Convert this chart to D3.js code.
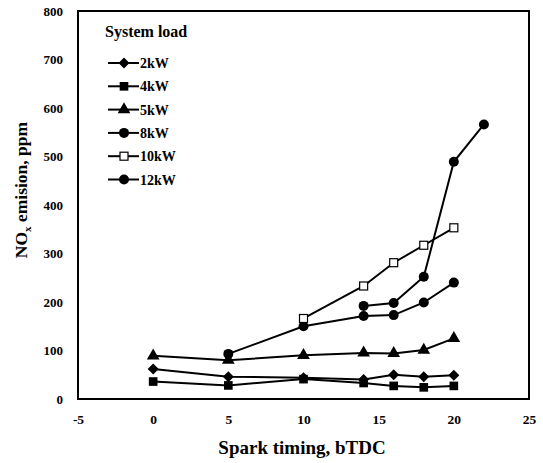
<!DOCTYPE html>
<html>
<head>
<meta charset="utf-8">
<script src="https://cdn.jsdelivr.net/npm/d3@7"></script>
<style>
body { margin: 0; background: #fff; }
text { font-family: "Liberation Serif", "Times New Roman", serif; font-weight: bold; fill: #000; }
</style>
</head>
<body>
<script>
// Data
const xTicks = [-5, 0, 5, 10, 15, 20, 25];
const yTicks = [0, 100, 200, 300, 400, 500, 600, 700, 800];

const x2kW = [0, 5, 10, 14, 16, 18, 20];
const y2kW = [62, 46, 44, 40, 50, 46, 49];
const x4kW = [0, 5, 10, 14, 16, 18, 20];
const y4kW = [36, 28, 41, 33, 27, 24, 27];
const x5kW = [0, 5, 10, 14, 16, 18, 20];
const y5kW = [89, 80, 90, 95, 94, 101, 125];
const x8kW = [5, 10, 14, 16, 18, 20];
const y8kW = [93, 150, 171, 173, 199, 240];
const x10kW = [10, 14, 16, 18, 20];
const y10kW = [166, 233, 281, 317, 353];
const x12kW = [14, 16, 18, 20, 22];
const y12kW = [192, 198, 252, 489, 566];

const seriesNames = ["2kW", "4kW", "5kW", "8kW", "10kW", "12kW"];
const seriesX = [x2kW, x4kW, x5kW, x8kW, x10kW, x12kW];
const seriesY = [y2kW, y4kW, y5kW, y8kW, y10kW, y12kW];
const symbols = ["diamond", "square", "triangle", "circle", "open", "circle"];

const width = 543, height = 463;
const margin = {left: 78, right: 14, top: 11, bottom: 64};

let svg = d3.select("body").append("svg")
	.attr("width", width)
	.attr("height", height);

let x = d3.scaleLinear().domain([-5, 25]).range([margin.left, width - margin.right]);
let y = d3.scaleLinear().domain([0, 800]).range([height - margin.bottom, margin.top]);

// Frame
svg.append("rect")
	.attr("x", x(-5)).attr("y", y(800))
	.attr("width", x(25) - x(-5)).attr("height", y(0) - y(800))
	.attr("fill", "none").attr("stroke", "#000").attr("stroke-width", 2);

// Axes (labels only)
svg.append("g")
	.attr("transform", `translate(0,${y(0)})`)
	.call(d3.axisBottom(x).tickValues(xTicks).tickSize(0).tickPadding(15).tickFormat(d => String(d)))
	.call(g => g.select(".domain").remove())
	.selectAll("text").attr("font-size", 13.5).attr("font-family", null);

svg.append("g")
	.attr("transform", `translate(${x(-5)},0)`)
	.call(d3.axisLeft(y).tickValues(yTicks).tickSize(0).tickPadding(15))
	.call(g => g.select(".domain").remove())
	.selectAll("text").attr("font-size", 13).attr("font-family", null);

// Axis titles
svg.append("text")
	.attr("x", 302).attr("y", 454)
	.attr("text-anchor", "middle")
	.attr("font-size", 19)
	.text("Spark timing, bTDC");

let yt = svg.append("text")
	.attr("transform", "translate(27,190) rotate(-90)")
	.attr("text-anchor", "middle")
	.attr("font-size", 17.5);
yt.append("tspan").text("NO");
yt.append("tspan").attr("font-size", 11).attr("dy", 4).text("x");
yt.append("tspan").attr("dy", -4).text(" emision, ppm");

// Marker drawing
function marker(g, type, cx, cy) {
	if (type === "circle") {
		g.append("circle").attr("cx", cx).attr("cy", cy).attr("r", 5).attr("fill", "#000");
	} else if (type === "open") {
		g.append("rect").attr("x", cx - 4).attr("y", cy - 4).attr("width", 8).attr("height", 8)
			.attr("fill", "#fff").attr("stroke", "#000").attr("stroke-width", 1.2);
	} else if (type === "diamond") {
		g.append("path")
			.attr("d", `M${cx},${cy - 5.5}L${cx + 5.5},${cy}L${cx},${cy + 5.5}L${cx - 5.5},${cy}Z`)
			.attr("fill", "#000");
	} else {
		let sym = {square: d3.symbolSquare, triangle: d3.symbolTriangle}[type];
		let size = {square: 75, triangle: 70}[type];
		g.append("path")
			.attr("d", d3.symbol(sym, size)())
			.attr("transform", `translate(${cx},${cy})`)
			.attr("fill", "#000");
	}
}

let line = d3.line().x(d => x(d[0])).y(d => y(d[1]));

for (let i = 0; i < seriesNames.length; ++i) {
	let pts = seriesX[i].map((v, j) => [v, seriesY[i][j]]);
	let g = svg.append("g");
	g.append("path")
		.attr("d", line(pts))
		.attr("fill", "none")
		.attr("stroke", "#000")
		.attr("stroke-width", 2);
	for (let j = 0; j < pts.length; ++j)
		marker(g, symbols[i], x(pts[j][0]), y(pts[j][1]));
}

// Legend
svg.append("text")
	.attr("x", 105).attr("y", 37)
	.attr("font-size", 16)
	.text("System load");

for (let i = 0; i < seriesNames.length; ++i) {
	let ly = 63 + i * 23.3;
	let g = svg.append("g");
	g.append("line")
		.attr("x1", 108).attr("x2", 139)
		.attr("y1", ly).attr("y2", ly)
		.attr("stroke", "#000").attr("stroke-width", 2);
	marker(g, symbols[i], 124, ly);
	g.append("text")
		.attr("x", 140).attr("y", ly + 5)
		.attr("font-size", 14)
		.text(seriesNames[i]);
}
</script>
</body>
</html>
